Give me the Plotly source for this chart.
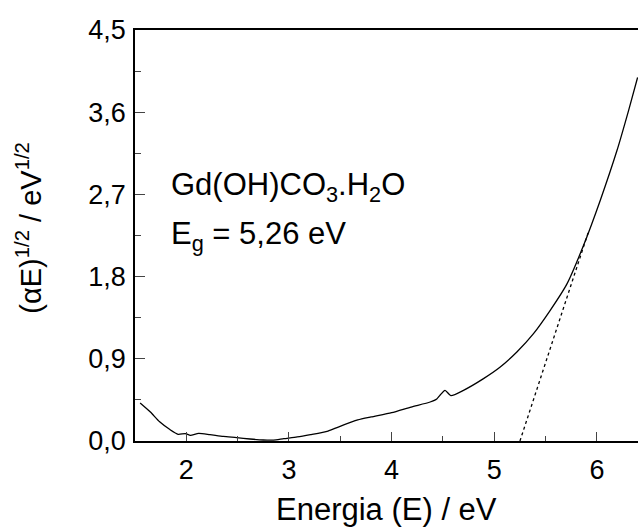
import plotly.graph_objects as go

# Measured curve: (alpha E)^(1/2) vs energy
energy = [1.55, 1.65, 1.74, 1.84, 1.92, 1.99, 2.04, 2.12, 2.23, 2.36, 2.49, 2.62,
          2.75, 2.85, 2.95, 3.08, 3.21, 3.38, 3.48, 3.67, 3.80, 4.00, 4.19, 4.375,
          4.44, 4.47, 4.52, 4.577, 4.70, 4.895, 5.058, 5.22, 5.382, 5.545, 5.708,
          5.869, 6.032, 6.195, 6.308, 6.396]
signal = [0.416, 0.317, 0.21, 0.125, 0.073, 0.081, 0.062, 0.084, 0.07, 0.051, 0.037, 0.022,
          0.011, 0.010, 0.026, 0.044, 0.07, 0.109, 0.153, 0.23, 0.263, 0.31, 0.372, 0.427,
          0.46, 0.50, 0.555, 0.497, 0.555, 0.683, 0.81, 0.974, 1.175, 1.43, 1.72,
          2.14, 2.634, 3.18, 3.618, 3.98]

# Linear extrapolation (band gap)
fit_x = [5.25, 5.92]
fit_y = [0.0, 2.30]

x_ticks = [2, 3, 4, 5, 6]
y_ticks = [0.0, 0.9, 1.8, 2.7, 3.6, 4.5]

FONT = "Liberation Sans, Arial, sans-serif"

fig = go.Figure()
fig.add_trace(go.Scatter(x=energy, y=signal, mode="lines", line_shape="spline",
                         line=dict(color="black", width=1.3, smoothing=0.6), cliponaxis=False,
                         showlegend=False))
fig.add_trace(go.Scatter(x=fit_x, y=fit_y, mode="lines",
                         line=dict(color="black", width=1.3, dash="dot"),
                         showlegend=False))

fig.update_layout(
    width=638, height=527,
    margin=dict(l=135, r=0, t=30, b=86),
    paper_bgcolor="white", plot_bgcolor="white",
    separators=",.",
    font=dict(family=FONT, color="black", size=27),
    xaxis=dict(range=[1.5, 6.4], tickvals=x_ticks, ticks="inside", ticklen=9,
               tickwidth=1.3, showline=True, linecolor="black", linewidth=1.6,
               mirror=True, showgrid=False, zeroline=False,
               minor=dict(dtick=0.5, tick0=1.5, ticks="inside", ticklen=5, tickwidth=1.3),
               tickfont=dict(size=27), ticklabelstandoff=4),
    yaxis=dict(range=[0, 4.5], tickvals=y_ticks, tickformat=".1f", ticks="inside",
               ticklen=10, tickwidth=1.3, showline=True, linecolor="black",
               linewidth=1.6, mirror=False, showgrid=False, zeroline=False,
               minor=dict(dtick=0.45, tick0=0, ticks="inside", ticklen=6, tickwidth=1.3),
               tickfont=dict(size=27), ticklabelstandoff=2),
)

fig.add_annotation(text="Energia (E) / eV", xref="paper", yref="paper",
                   x=0.5, y=-0.12, xanchor="center", yanchor="top", showarrow=False,
                   font=dict(size=31))
fig.add_annotation(text="(αE)<sup>1/2</sup> / eV<sup>1/2</sup>", xref="paper", yref="paper",
                   x=-0.21, y=0.52, xanchor="center", yanchor="middle", textangle=-90,
                   showarrow=False, font=dict(size=29))
fig.add_annotation(text="Gd(OH)CO<sub>3</sub>.H<sub>2</sub>O", xref="paper", yref="paper",
                   x=0.068, y=0.617, xanchor="left", yanchor="middle", showarrow=False,
                   font=dict(size=31))
fig.add_annotation(text="E<sub>g</sub> = 5,26 eV", xref="paper", yref="paper",
                   x=0.068, y=0.50, xanchor="left", yanchor="middle", showarrow=False,
                   font=dict(size=31))

fig.write_html("out.html")
